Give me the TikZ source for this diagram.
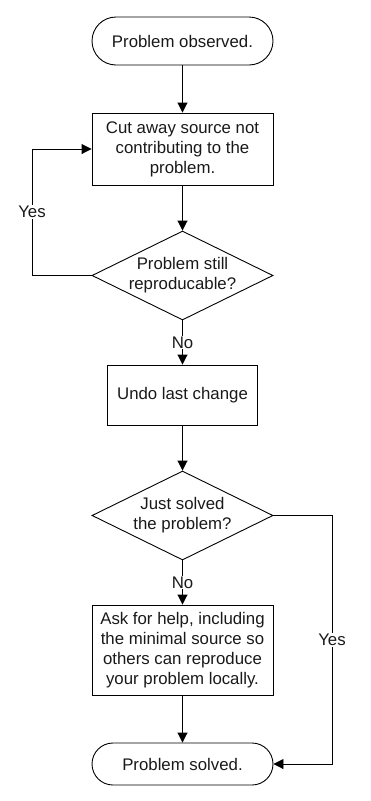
\documentclass[tikz,border=0pt]{standalone}
\usepackage{fontspec}
\setmainfont{Liberation Sans}
\usetikzlibrary{arrows.meta,shapes.geometric}
\begin{document}
\begin{tikzpicture}[x=1pt,y=-1pt,
  every node/.style={font=\fontsize{16.8}{20}\selectfont, text=black!90},
  line/.style={draw=black, line width=0.9pt},
  arr/.style={line, -{Triangle[length=10pt,width=10pt]}},
  term/.style={line, rectangle, inner sep=0pt, minimum width=181pt},
  box/.style={line, rectangle, inner sep=0pt, align=center},
  dia/.style={line, diamond, inner sep=0pt, minimum width=181pt, minimum height=89pt},
  lbl/.style={fill=white, inner sep=1pt}
]
\useasboundingbox (0,0) rectangle (371,801);
\node[term, minimum height=48pt, rounded corners=24pt] (start) at (182.5,41) {Problem observed.};
\node[box, minimum width=181pt, minimum height=72pt] (cut) at (182.5,149) {Cut away source not\\contributing to the\\problem.};
\node[dia, label={[align=center]center:Problem still\\reproducable?}] (d1) at (182.5,275.5) {};
\node[box, minimum width=150pt, minimum height=60pt] (undo) at (182.5,395) {Undo last change};
\node[dia, label={[align=center]center:Just solved\\the problem?}] (d2) at (182.5,515.5) {};
\node[box, minimum width=181pt, minimum height=90pt] (ask) at (182.5,650) {Ask for help, including\\the minimal source so\\others can reproduce\\your problem locally.};
\node[term, minimum height=42pt, rounded corners=21pt] (end) at (182.5,764) {Problem solved.};
\coordinate (l1) at (32,275.5);
\coordinate (l2) at (32,149);
\coordinate (r1) at (332,515.5);
\coordinate (r2) at (332,764);

\draw[arr] (start) -- (cut);
\draw[arr] (cut) -- (d1);
\draw[arr] (d1.west) -- (l1) -- node[lbl, pos=0.5] {Yes} (l2) -- (cut.west);
\draw[arr] (d1) -- node[lbl, pos=0.5] {No} (undo);
\draw[arr] (undo) -- (d2);
\draw[arr] (d2) -- node[lbl, pos=0.5] {No} (ask);
\draw[arr] (d2.east) -- (r1) -- node[lbl, pos=0.5] {Yes} (r2) -- (end.east);
\draw[arr] (ask) -- (end);
\end{tikzpicture}
\end{document}
